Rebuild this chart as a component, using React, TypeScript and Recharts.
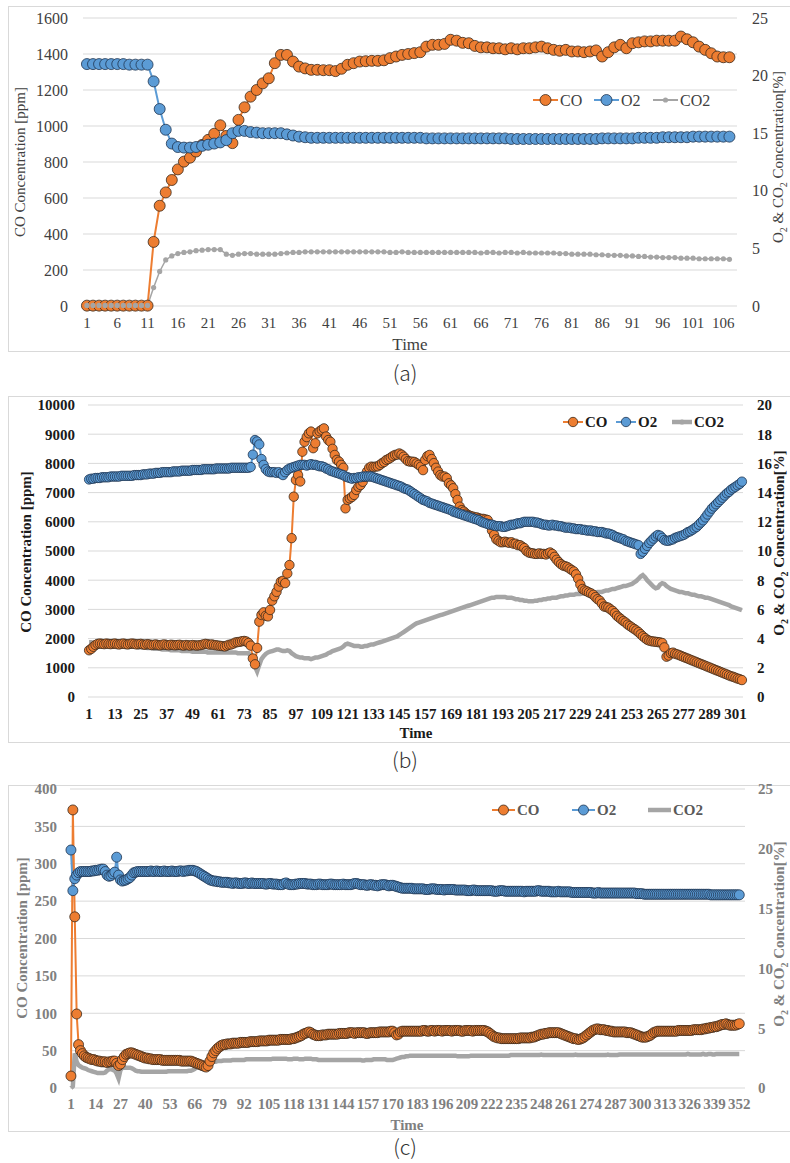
import { CartesianGrid, Legend, Line, LineChart, XAxis, YAxis } from "recharts";

// ---------- (a) ----------
const coA = [
  2, 2, 2, 2, 2, 2, 2, 2, 2, 2,
  2, 356, 557, 631, 700, 759, 802, 824, 858, 895,
  923, 957, 1004, 945, 905, 1034, 1104, 1163, 1200, 1237,
  1265, 1349, 1395, 1395, 1358, 1330, 1320, 1312, 1312, 1310,
  1310, 1305, 1318, 1340, 1349, 1358, 1360, 1362, 1362, 1365,
  1377, 1386, 1395, 1400, 1405, 1410, 1441, 1451, 1451, 1456,
  1479, 1474, 1462, 1460, 1445, 1437, 1437, 1432, 1432, 1426,
  1432, 1426, 1432, 1432, 1437, 1441, 1432, 1423, 1418, 1423,
  1414, 1414, 1410, 1414, 1420, 1386, 1410, 1437, 1451, 1432,
  1460, 1465, 1470, 1470, 1474, 1474, 1474, 1474, 1497, 1482,
  1465, 1441, 1423, 1404, 1386, 1382, 1382,
];
const o2A = [
  21.0, 21.0, 21.0, 21.0, 21.0, 21.0, 21.0, 20.95, 20.95, 20.95,
  20.95, 19.5, 17.1, 15.3, 14.1, 13.8, 13.75, 13.75, 13.8, 13.9,
  14.0, 14.1, 14.2, 14.4, 15.0, 15.2, 15.2, 15.1, 15.05, 15.0,
  15.0, 15.0, 15.0, 14.9, 14.8, 14.7, 14.65, 14.6, 14.6, 14.6,
  14.6, 14.6, 14.6, 14.6, 14.6, 14.6, 14.6, 14.6, 14.6, 14.6,
  14.6, 14.6, 14.6, 14.6, 14.6, 14.6, 14.55, 14.55, 14.55, 14.55,
  14.55, 14.55, 14.55, 14.55, 14.55, 14.55, 14.55, 14.55, 14.55, 14.55,
  14.5, 14.5, 14.5, 14.5, 14.5, 14.5, 14.5, 14.5, 14.5, 14.5,
  14.5, 14.5, 14.5, 14.5, 14.5, 14.55, 14.55, 14.55, 14.55, 14.55,
  14.55, 14.6, 14.6, 14.6, 14.6, 14.65, 14.65, 14.65, 14.65, 14.65,
  14.7, 14.7, 14.7, 14.7, 14.7, 14.7, 14.7,
];
const co2A = [
  0.05, 0.05, 0.05, 0.05, 0.05, 0.05, 0.05, 0.05, 0.05, 0.05,
  0.05, 1.6, 3.0, 4.0, 4.35, 4.55, 4.65, 4.7, 4.8, 4.85,
  4.9, 4.9, 4.9, 4.5, 4.4, 4.5, 4.55, 4.55, 4.5, 4.5,
  4.5, 4.5, 4.55, 4.6, 4.65, 4.65, 4.7, 4.7, 4.7, 4.7,
  4.7, 4.7, 4.7, 4.7, 4.7, 4.7, 4.7, 4.7, 4.7, 4.7,
  4.65, 4.65, 4.7, 4.65, 4.65, 4.65, 4.65, 4.65, 4.65, 4.65,
  4.65, 4.65, 4.65, 4.65, 4.65, 4.6, 4.65, 4.65, 4.6, 4.65,
  4.65, 4.6, 4.65, 4.6, 4.6, 4.6, 4.6, 4.6, 4.55, 4.55,
  4.5, 4.5, 4.5, 4.5, 4.45, 4.45, 4.4, 4.4, 4.4, 4.35,
  4.35, 4.3, 4.3, 4.25, 4.25, 4.2, 4.2, 4.2, 4.15, 4.15,
  4.15, 4.1, 4.1, 4.1, 4.1, 4.1, 4.05,
];
const xTicksA = [1, 6, 11, 16, 21, 26, 31, 36, 41, 46, 51, 56, 61, 66, 71, 76, 81, 86, 91, 96, 101, 106];
const leftTicksA = [0, 200, 400, 600, 800, 1000, 1200, 1400, 1600];
const rightTicksA = [0, 5, 10, 15, 20, 25];

// ---------- (b) ----------
const coB = [
  1600, 1650, 1720, 1780, 1820, 1830, 1820, 1810, 1830, 1820,
  1810, 1820, 1830, 1810, 1800, 1820, 1830, 1810, 1800, 1820,
  1830, 1820, 1800, 1810, 1820, 1800, 1790, 1810, 1800, 1780,
  1790, 1800, 1780, 1770, 1790, 1800, 1780, 1770, 1790, 1780,
  1770, 1780, 1790, 1770, 1760, 1780, 1770, 1760, 1780, 1770,
  1760, 1770, 1780, 1800, 1820, 1810, 1790, 1800, 1780, 1770,
  1760, 1750, 1740, 1730, 1760, 1790, 1800, 1830, 1870, 1880,
  1890, 1910, 1920, 1900, 1850, 1760, 1320, 1120, 1680, 2580,
  2810, 2900, 2780, 2760, 2980, 3300, 3450, 3600, 3780, 3950,
  3980, 3900, 4230, 4520, 5440, 6860, 7430, 7600, 7380, 8400,
  8740, 8900, 9030, 9090, 8520, 8690, 9030, 9100, 9150, 9200,
  8920, 8800, 8740, 8500, 8290, 8120, 8060, 7950, 7850, 6460,
  6750, 6800, 6850, 6920, 7090, 7200, 7260, 7370, 7550, 7720,
  7850, 7890, 7880, 7890, 7900, 7950, 8010, 8050, 8120, 8150,
  8200, 8250, 8290, 8300, 8340, 8300, 8230, 8150, 8080, 8060,
  8060, 8050, 8000, 7950, 7890, 7770, 8120, 8250, 8290, 8150,
  8010, 7850, 7720, 7600, 7550, 7550, 7500, 7320, 7250, 7150,
  6950, 6750, 6520, 6400, 6350, 6280, 6230, 6200, 6180, 6150,
  6150, 6120, 6100, 6100, 6080, 6060, 5900, 5700, 5550, 5400,
  5350, 5300, 5300, 5320, 5300, 5280, 5300, 5250, 5250, 5200,
  5200, 5150, 5100, 5000, 4950, 4930, 4920, 4900, 4900, 4920,
  4900, 4900, 4880, 4920, 4950, 4900, 4800, 4700, 4620, 4550,
  4500, 4480, 4450, 4400, 4350, 4300, 4200, 4050, 3850, 3700,
  3650, 3620, 3580, 3550, 3500, 3420, 3350, 3300, 3200, 3100,
  3080, 3060, 3000, 2950, 2870, 2780, 2720, 2660, 2600, 2550,
  2480, 2430, 2380, 2330, 2280, 2220, 2150, 2080, 2020, 1960,
  1930, 1910, 1900, 1890, 1880, 1870, 1850, 1700, 1380, 1420,
  1500, 1520, 1480, 1460, 1430, 1400, 1370, 1340, 1310, 1280,
  1250, 1220, 1190, 1160, 1130, 1100, 1070, 1040, 1010, 980,
  950, 920, 890, 860, 830, 800, 770, 740, 710, 690,
  660, 630, 610, 580,
];
const o2B = [
  14.9, 14.95, 14.95, 15.0, 15.0, 15.0, 15.05, 15.05, 15.05, 15.05,
  15.1, 15.1, 15.1, 15.1, 15.1, 15.15, 15.15, 15.15, 15.15, 15.15,
  15.15, 15.2, 15.2, 15.2, 15.2, 15.25, 15.25, 15.25, 15.3, 15.3,
  15.3, 15.35, 15.35, 15.35, 15.4, 15.4, 15.4, 15.4, 15.4, 15.45,
  15.45, 15.45, 15.45, 15.5, 15.5, 15.5, 15.5, 15.5, 15.55, 15.55,
  15.55, 15.55, 15.55, 15.6, 15.6, 15.6, 15.6, 15.6, 15.6, 15.65,
  15.65, 15.65, 15.65, 15.65, 15.65, 15.65, 15.7, 15.7, 15.7, 15.7,
  15.7, 15.7, 15.7, 15.7, 15.7, 15.75, 16.6, 17.6, 17.5, 17.3,
  16.3, 15.9, 15.6, 15.45, 15.4, 15.4, 15.4, 15.35, 15.4, 15.3,
  15.2, 15.4, 15.55, 15.65, 15.7, 15.75, 15.8, 15.85, 15.9, 15.9,
  15.9, 15.85, 15.9, 15.95, 15.9, 15.9, 15.85, 15.8, 15.8, 15.75,
  15.65, 15.6, 15.5, 15.45, 15.4, 15.35, 15.3, 15.25, 15.2, 15.1,
  15.05, 15.0, 14.95, 15.0, 15.0, 15.05, 15.05, 15.1, 15.1, 15.1,
  15.1, 15.1, 15.05, 15.0, 14.95, 14.9, 14.85, 14.8, 14.75, 14.7,
  14.65, 14.6, 14.55, 14.5, 14.45, 14.4, 14.3, 14.25, 14.2, 14.1,
  14.0, 13.9, 13.8, 13.7, 13.6, 13.5, 13.45, 13.4, 13.3, 13.25,
  13.2, 13.15, 13.1, 13.05, 13.0, 12.95, 12.9, 12.85, 12.8, 12.7,
  12.65, 12.6, 12.55, 12.5, 12.45, 12.4, 12.35, 12.3, 12.25, 12.2,
  12.15, 12.1, 12.0, 11.95, 11.9, 11.85, 11.8, 11.8, 11.75, 11.7,
  11.7, 11.7, 11.65, 11.65, 11.7, 11.75, 11.8, 11.8, 11.85, 11.9,
  11.9, 11.95, 12.0, 12.0, 12.0, 12.0, 12.0, 11.95, 11.95, 11.9,
  11.85, 11.8, 11.8, 11.75, 11.75, 11.8, 11.75, 11.75, 11.7, 11.7,
  11.65, 11.6, 11.6, 11.6, 11.55, 11.55, 11.5, 11.5, 11.5, 11.45,
  11.45, 11.4, 11.4, 11.4, 11.35, 11.35, 11.3, 11.3, 11.3, 11.25,
  11.2, 11.2, 11.15, 11.1, 11.0, 10.95, 10.9, 10.85, 10.8, 10.7,
  10.65, 10.6, 10.55, 10.5, 10.45, 10.4, 9.8, 9.95, 10.15, 10.35,
  10.55, 10.7, 10.85, 11.0, 11.1, 11.05, 10.9, 10.75, 10.7, 10.7,
  10.75, 10.8, 10.9, 10.95, 11.0, 11.05, 11.1, 11.2, 11.3, 11.35,
  11.45, 11.55, 11.65, 11.8, 11.95, 12.1, 12.3, 12.5, 12.7, 12.9,
  13.05, 13.2, 13.35, 13.5, 13.65, 13.8, 13.95, 14.05, 14.2, 14.3,
  14.4, 14.5, 14.6, 14.75,
];
const co2B = [
  3.75, 3.75, 3.7, 3.7, 3.7, 3.65, 3.65, 3.65, 3.6, 3.6,
  3.6, 3.6, 3.55, 3.55, 3.55, 3.5, 3.5, 3.5, 3.5, 3.45,
  3.45, 3.45, 3.45, 3.4, 3.4, 3.4, 3.4, 3.35, 3.35, 3.35,
  3.3, 3.3, 3.3, 3.3, 3.25, 3.25, 3.25, 3.25, 3.2, 3.2,
  3.2, 3.2, 3.2, 3.15, 3.15, 3.15, 3.15, 3.15, 3.1, 3.1,
  3.1, 3.1, 3.1, 3.1, 3.1, 3.05, 3.05, 3.05, 3.05, 3.05,
  3.05, 3.05, 3.05, 3.05, 3.05, 3.05, 3.05, 3.05, 3.05, 3.0,
  3.0, 3.0, 3.0, 3.0, 3.0, 2.8, 2.5, 2.1, 1.75, 2.2,
  2.6, 2.8, 2.95, 3.05, 3.1, 3.15, 3.2, 3.25, 3.25, 3.2,
  3.15, 3.15, 3.2, 3.15, 3.0, 2.9, 2.8, 2.75, 2.7, 2.7,
  2.65, 2.65, 2.65, 2.6, 2.65, 2.7, 2.7, 2.75, 2.8, 2.85,
  2.9, 3.0, 3.05, 3.15, 3.2, 3.25, 3.3, 3.35, 3.45, 3.6,
  3.65, 3.6, 3.55, 3.5, 3.5, 3.5, 3.45, 3.45, 3.5, 3.5,
  3.55, 3.6, 3.6, 3.65, 3.7, 3.75, 3.8, 3.85, 3.9, 3.95,
  4.0, 4.05, 4.1, 4.15, 4.25, 4.35, 4.45, 4.55, 4.65, 4.75,
  4.85, 4.95, 5.05, 5.1, 5.15, 5.2, 5.25, 5.3, 5.35, 5.4,
  5.45, 5.5, 5.55, 5.6, 5.65, 5.7, 5.75, 5.8, 5.85, 5.9,
  5.95, 6.0, 6.05, 6.1, 6.15, 6.2, 6.25, 6.3, 6.35, 6.4,
  6.45, 6.5, 6.55, 6.6, 6.65, 6.7, 6.75, 6.8, 6.8, 6.85,
  6.85, 6.85, 6.85, 6.85, 6.8, 6.8, 6.8, 6.75, 6.7, 6.7,
  6.65, 6.65, 6.6, 6.6, 6.55, 6.55, 6.55, 6.6, 6.6, 6.65,
  6.65, 6.7, 6.7, 6.75, 6.75, 6.8, 6.8, 6.8, 6.85, 6.9,
  6.9, 6.95, 6.95, 7.0, 7.0, 7.0, 7.05, 7.05, 7.05, 7.1,
  7.1, 7.1, 7.1, 7.15, 7.15, 7.15, 7.2, 7.2, 7.2, 7.25,
  7.3, 7.3, 7.35, 7.4, 7.4, 7.45, 7.5, 7.55, 7.6, 7.6,
  7.65, 7.7, 7.75, 7.85, 7.95, 8.1, 8.25, 8.35, 8.2, 8.0,
  7.85, 7.7, 7.55, 7.45, 7.5, 7.7, 7.8, 7.75, 7.6, 7.5,
  7.4, 7.35, 7.3, 7.25, 7.2, 7.2, 7.15, 7.1, 7.1, 7.05,
  7.0, 7.0, 6.95, 6.9, 6.9, 6.85, 6.8, 6.8, 6.75, 6.7,
  6.65, 6.6, 6.55, 6.5, 6.45, 6.4, 6.35, 6.3, 6.2, 6.15,
  6.1, 6.05, 6.0, 5.95,
];
const xTicksB = [1, 13, 25, 37, 49, 61, 73, 85, 97, 109, 121, 133, 145, 157, 169, 181, 193, 205, 217, 229, 241, 253, 265, 277, 289, 301];
const leftTicksB = [0, 1000, 2000, 3000, 4000, 5000, 6000, 7000, 8000, 9000, 10000];
const rightTicksB = [0, 2, 4, 6, 8, 10, 12, 14, 16, 18, 20];

// ---------- (c) ----------
const coC = [
  16, 372, 229, 99, 58, 50, 46, 43, 41, 40,
  39, 38, 38, 37, 36, 36, 35, 35, 35, 34,
  35, 35, 36, 36, 33, 30, 32, 38, 42, 45,
  46, 47, 47, 46, 45, 44, 43, 42, 41, 40,
  40, 39, 39, 38, 38, 38, 38, 38, 37, 37,
  37, 37, 37, 37, 37, 37, 37, 37, 36, 36,
  36, 36, 36, 36, 35, 34, 33, 32, 31, 30,
  29, 28, 30, 36, 42, 47, 50, 53, 55, 57,
  58, 58, 59, 59, 59, 60, 60, 60, 60, 61,
  61, 61, 61, 61, 62, 62, 62, 62, 62, 63,
  63, 63, 63, 63, 64, 64, 64, 64, 64, 64,
  65, 65, 65, 65, 65, 65, 66, 66, 67, 68,
  69, 70, 72, 73, 74, 75, 74, 72, 71, 70,
  70, 70, 71, 71, 71, 72, 72, 72, 72, 72,
  72, 73, 73, 73, 73, 73, 74, 74, 74, 73,
  74, 74, 74, 74, 74, 73, 73, 74, 74, 74,
  74, 74, 75, 75, 75, 75, 75, 75, 76, 76,
  74, 71, 72, 75, 76, 76, 76, 76, 76, 76,
  76, 76, 76, 76, 76, 77, 77, 76, 76, 77,
  77, 76, 77, 77, 77, 76, 77, 77, 77, 77,
  76, 77, 77, 77, 77, 76, 76, 77, 77, 77,
  77, 76, 77, 77, 77, 77, 77, 77, 76, 75,
  73, 71, 69, 68, 67, 67, 66, 66, 66, 66,
  66, 66, 66, 66, 66, 66, 67, 67, 67, 67,
  67, 67, 68, 68, 69, 70, 71, 72, 72, 73,
  73, 74, 74, 74, 74, 74, 74, 73, 72, 71,
  70, 69, 68, 67, 66, 66, 65, 65, 66, 67,
  69, 71, 73, 75, 77, 78, 79, 79, 78, 78,
  78, 77, 77, 76, 76, 75, 75, 75, 75, 75,
  75, 75, 74, 74, 74, 73, 72, 71, 70, 69,
  68, 68, 68, 69, 70, 72, 74, 75, 76, 76,
  76, 76, 76, 76, 76, 76, 76, 76, 76, 77,
  77, 77, 77, 77, 77, 77, 77, 78, 78, 78,
  78, 78, 79, 79, 80, 80, 81, 81, 82, 82,
  83, 84, 85, 85, 86, 85, 84, 84, 84, 84,
  85, 86,
];
const o2C = [
  19.9, 16.5, 17.5, 17.8, 18.0, 18.1, 18.1, 18.1, 18.1, 18.1,
  18.1, 18.15, 18.15, 18.2, 18.2, 18.25, 18.3, 18.3, 18.1, 17.8,
  17.7, 17.75, 17.9, 18.05, 19.3, 17.8, 17.4, 17.3, 17.35, 17.4,
  17.5, 17.6, 17.8, 18.0, 18.05, 18.1, 18.1, 18.1, 18.1, 18.1,
  18.1, 18.1, 18.15, 18.1, 18.1, 18.15, 18.1, 18.1, 18.1, 18.15,
  18.1, 18.1, 18.1, 18.15, 18.1, 18.1, 18.1, 18.15, 18.15, 18.1,
  18.15, 18.15, 18.2, 18.2, 18.2, 18.15, 18.1, 18.0, 17.9, 17.8,
  17.7, 17.6, 17.5, 17.4, 17.35, 17.3, 17.3, 17.25, 17.25, 17.2,
  17.2, 17.2, 17.2, 17.15, 17.15, 17.1, 17.15, 17.15, 17.1, 17.1,
  17.1, 17.15, 17.15, 17.1, 17.1, 17.15, 17.1, 17.1, 17.1, 17.1,
  17.1, 17.1, 17.05, 17.05, 17.1, 17.1, 17.05, 17.05, 17.05, 17.0,
  17.0, 17.0, 17.1, 17.15, 17.05, 17.0, 17.0, 17.0, 17.05, 17.05,
  17.1, 17.1, 17.1, 17.1, 17.05, 17.05, 17.05, 17.0, 17.0, 17.0,
  17.05, 17.05, 17.0, 17.0, 17.0, 17.0, 17.05, 17.05, 17.0, 17.0,
  17.0, 17.0, 17.0, 17.05, 17.0, 17.0, 17.0, 17.0, 17.05, 17.1,
  17.1, 17.05, 17.0, 17.0, 17.0, 16.95, 16.95, 17.0, 17.0, 16.95,
  16.95, 16.9, 16.95, 17.0, 17.0, 17.0, 16.95, 16.9, 16.95, 16.95,
  16.9, 16.85, 16.8, 16.75, 16.7, 16.7, 16.7, 16.7, 16.7, 16.7,
  16.65, 16.65, 16.65, 16.65, 16.65, 16.65, 16.6, 16.6, 16.6, 16.65,
  16.65, 16.65, 16.6, 16.6, 16.6, 16.6, 16.55, 16.6, 16.6, 16.6,
  16.6, 16.6, 16.55, 16.55, 16.55, 16.55, 16.55, 16.55, 16.5, 16.5,
  16.5, 16.55, 16.55, 16.5, 16.5, 16.5, 16.5, 16.5, 16.5, 16.5,
  16.5, 16.5, 16.45, 16.45, 16.45, 16.5, 16.5, 16.5, 16.45, 16.45,
  16.45, 16.45, 16.45, 16.45, 16.45, 16.45, 16.45, 16.45, 16.4, 16.45,
  16.45, 16.45, 16.45, 16.45, 16.45, 16.5, 16.5, 16.45, 16.45, 16.45,
  16.45, 16.45, 16.4, 16.4, 16.4, 16.4, 16.45, 16.4, 16.4, 16.4,
  16.4, 16.4, 16.4, 16.35, 16.35, 16.35, 16.35, 16.35, 16.35, 16.35,
  16.35, 16.35, 16.35, 16.35, 16.3, 16.3, 16.3, 16.35, 16.3, 16.3,
  16.3, 16.3, 16.3, 16.3, 16.3, 16.3, 16.3, 16.3, 16.3, 16.3,
  16.3, 16.3, 16.3, 16.3, 16.3, 16.3, 16.3, 16.25, 16.25, 16.25,
  16.25, 16.2, 16.2, 16.2, 16.2, 16.2, 16.2, 16.2, 16.2, 16.2,
  16.2, 16.2, 16.2, 16.2, 16.2, 16.2, 16.2, 16.2, 16.2, 16.2,
  16.2, 16.2, 16.2, 16.2, 16.2, 16.2, 16.2, 16.2, 16.2, 16.2,
  16.2, 16.2, 16.2, 16.2, 16.2, 16.2, 16.15, 16.15, 16.15, 16.15,
  16.15, 16.15, 16.15, 16.15, 16.15, 16.15, 16.15, 16.15, 16.15, 16.15,
  16.15, 16.15,
];
const co2C = [
  0.0, 0.15, 2.9, 2.2, 1.9, 1.8, 1.7, 1.65, 1.6, 1.5,
  1.45, 1.4, 1.35, 1.3, 1.25, 1.25, 1.25, 1.25, 1.3, 1.45,
  1.55, 1.6, 1.5, 1.45, 1.2, 0.8, 1.5, 1.7, 1.7, 1.7,
  1.7, 1.7, 1.65, 1.55, 1.45, 1.4, 1.4, 1.35, 1.35, 1.35,
  1.35, 1.35, 1.35, 1.35, 1.35, 1.35, 1.35, 1.35, 1.35, 1.35,
  1.35, 1.4, 1.4, 1.4, 1.4, 1.4, 1.4, 1.4, 1.4, 1.4,
  1.4, 1.4, 1.45, 1.45, 1.5, 1.6, 1.75, 1.9, 2.0, 2.0,
  2.05, 2.1, 2.1, 2.15, 2.15, 2.2, 2.2, 2.25, 2.25, 2.25,
  2.3, 2.3, 2.3, 2.3, 2.3, 2.35, 2.35, 2.35, 2.35, 2.35,
  2.35, 2.35, 2.4, 2.4, 2.4, 2.4, 2.4, 2.4, 2.4, 2.4,
  2.4, 2.4, 2.4, 2.4, 2.4, 2.4, 2.45, 2.45, 2.45, 2.45,
  2.45, 2.45, 2.45, 2.45, 2.4, 2.4, 2.4, 2.45, 2.45, 2.45,
  2.4, 2.4, 2.4, 2.45, 2.45, 2.45, 2.45, 2.4, 2.4, 2.4,
  2.35, 2.35, 2.35, 2.35, 2.35, 2.35, 2.35, 2.35, 2.35, 2.35,
  2.35, 2.35, 2.35, 2.35, 2.35, 2.35, 2.35, 2.35, 2.35, 2.35,
  2.35, 2.35, 2.35, 2.3, 2.3, 2.35, 2.35, 2.35, 2.35, 2.4,
  2.4, 2.4, 2.4, 2.4, 2.4, 2.4, 2.35, 2.35, 2.35, 2.35,
  2.4, 2.45, 2.5, 2.55, 2.6, 2.6, 2.65, 2.65, 2.7, 2.7,
  2.7, 2.7, 2.7, 2.7, 2.7, 2.7, 2.7, 2.7, 2.7, 2.7,
  2.7, 2.7, 2.7, 2.7, 2.7, 2.7, 2.7, 2.7, 2.7, 2.7,
  2.7, 2.7, 2.7, 2.65, 2.65, 2.65, 2.65, 2.65, 2.65, 2.65,
  2.7, 2.7, 2.7, 2.7, 2.7, 2.7, 2.7, 2.7, 2.7, 2.7,
  2.7, 2.7, 2.7, 2.7, 2.7, 2.7, 2.7, 2.7, 2.7, 2.7,
  2.7, 2.75, 2.75, 2.75, 2.75, 2.75, 2.75, 2.75, 2.75, 2.75,
  2.75, 2.75, 2.75, 2.75, 2.75, 2.75, 2.75, 2.8, 2.75, 2.75,
  2.75, 2.75, 2.75, 2.75, 2.75, 2.75, 2.75, 2.75, 2.75, 2.75,
  2.75, 2.75, 2.75, 2.75, 2.75, 2.8, 2.75, 2.75, 2.75, 2.75,
  2.75, 2.75, 2.75, 2.75, 2.75, 2.75, 2.75, 2.75, 2.75, 2.75,
  2.75, 2.75, 2.8, 2.75, 2.75, 2.75, 2.75, 2.75, 2.8, 2.8,
  2.8, 2.8, 2.8, 2.8, 2.8, 2.8, 2.8, 2.8, 2.8, 2.8,
  2.8, 2.8, 2.8, 2.8, 2.8, 2.8, 2.8, 2.8, 2.8, 2.8,
  2.8, 2.8, 2.8, 2.8, 2.8, 2.8, 2.8, 2.8, 2.8, 2.8,
  2.8, 2.8, 2.8, 2.8, 2.85, 2.8, 2.8, 2.8, 2.8, 2.8,
  2.8, 2.8, 2.85, 2.8, 2.8, 2.85, 2.85, 2.8, 2.8, 2.85,
  2.85, 2.85, 2.85, 2.85, 2.85, 2.85, 2.85, 2.85, 2.85, 2.85,
  2.85, 2.85,
];
const xTicksC = [1, 14, 27, 40, 53, 66, 79, 92, 105, 118, 131, 144, 157, 170, 183, 196, 209, 222, 235, 248, 261, 274, 287, 300, 313, 326, 339, 352];
const leftTicksC = [0, 50, 100, 150, 200, 250, 300, 350, 400];
const rightTicksC = [0, 5, 10, 15, 20, 25];

const ORANGE = "#ED7D31";
const BLUE = "#5B9BD5";
const GRAY = "#A5A5A5";
const SERIF = "'Liberation Serif', 'Times New Roman', serif";
// extra room above each plot so the top tick labels are not clipped
const PAD = 10;

type Row = { t: number; CO: number; O2: number; CO2: number };
const toRows = (co: number[], o2: number[], co2: number[]): Row[] =>
  co.map((v, i) => ({ t: i + 1, CO: v, O2: o2[i], CO2: co2[i] }));

interface SeriesStyle {
  width: number;
  r: number;
  dotStroke: string;
}

interface Panel {
  top: number;
  h: number;
  rows: Row[];
  margin: { top: number; right: number; bottom: number; left: number };
  leftW: number;
  rightW: number;
  xDomain: [number, number];
  xTicks: number[];
  leftDomain: [number, number];
  leftTicks: number[];
  rightDomain: [number, number];
  rightTicks: number[];
  gapL: number;
  gapR: number;
  gapX: number;
  color: string;
  legendColor: string;
  weight: number;
  yFont: number;
  xFont: number;
  styles: SeriesStyle[];
  legendXs: number[];
  legendY: number;
  legendLen: number;
  yTitle: [number, number];
  rTitle: [number, number];
  time: [number, number];
  caption: string;
  captionY: number;
}

const panels: Panel[] = [
  {
    top: 6, h: 346, rows: toRows(coA, o2A, co2A),
    margin: { top: 12, right: 0, bottom: 16, left: 0 }, leftW: 75, rightW: 47,
    xDomain: [0.35, 108.25], xTicks: xTicksA,
    leftDomain: [0, 1600], leftTicks: leftTicksA, rightDomain: [0, 25], rightTicks: rightTicksA,
    gapL: 15, gapR: 15, gapX: 11, color: "#404040", legendColor: "#404040", weight: 400, yFont: 16, xFont: 15,
    styles: [
      { width: 2, r: 5.5, dotStroke: "#3a2a1c" },
      { width: 2, r: 5.5, dotStroke: "#1f3550" },
      { width: 1.5, r: 2.6, dotStroke: GRAY },
    ],
    legendXs: [533, 594, 653], legendY: 100, legendLen: 25,
    yTitle: [20, 162], rTitle: [781, 157], time: [410, 345], caption: "(a)", captionY: 372,
  },
  {
    top: 396, h: 347, rows: toRows(coB, o2B, co2B),
    margin: { top: 9, right: 0, bottom: 16, left: 0 }, leftW: 80, rightW: 41,
    xDomain: [0.5, 304.5], xTicks: xTicksB,
    leftDomain: [0, 10000], leftTicks: leftTicksB, rightDomain: [0, 20], rightTicks: rightTicksB,
    gapL: 13, gapR: 14, gapX: 11, color: "#1a1a1a", legendColor: "#1a1a1a", weight: 700, yFont: 15, xFont: 15,
    styles: [
      { width: 2, r: 4.7, dotStroke: "#3a2a1c" },
      { width: 2, r: 4.7, dotStroke: "#1f3550" },
      { width: 4.5, r: 0, dotStroke: GRAY },
    ],
    legendXs: [563, 616, 672], legendY: 422, legendLen: 20,
    yTitle: [26, 552], rTitle: [782, 543], time: [416, 733], caption: "(b)", captionY: 759,
  },
  {
    top: 785, h: 347, rows: toRows(coC, o2C, co2C),
    margin: { top: 4, right: 0, bottom: 14, left: 0 }, leftW: 62, rightW: 39,
    xDomain: [0.5, 355], xTicks: xTicksC,
    leftDomain: [0, 400], leftTicks: leftTicksC, rightDomain: [0, 25], rightTicks: rightTicksC,
    gapL: 13, gapR: 13, gapX: 10, color: "#7f7f7f", legendColor: "#595959", weight: 700, yFont: 15, xFont: 15,
    styles: [
      { width: 2, r: 5, dotStroke: "#3a2a1c" },
      { width: 2, r: 5, dotStroke: "#1f3550" },
      { width: 4.5, r: 0, dotStroke: GRAY },
    ],
    legendXs: [492, 572, 648], legendY: 810, legendLen: 23,
    yTitle: [22, 938], rTitle: [782, 934], time: [407, 1125], caption: "(c)", captionY: 1146,
  },
];

const seriesMeta = [
  { key: "CO", axis: "left", color: ORANGE },
  { key: "O2", axis: "right", color: BLUE },
  { key: "CO2", axis: "right", color: GRAY },
];

const makeLegend = (p: Panel) => (props: any) => {
  const payload: any[] = props.payload ?? [];
  return (
    <svg width={776} height={24} style={{ display: "block" }}>
      {payload.map((entry) => {
        const idx = seriesMeta.findIndex((s) => s.key === entry.value);
        if (idx < 0) return null;
        const st = p.styles[idx];
        const x0 = p.legendXs[idx] - 8;
        const cx = x0 + p.legendLen / 2;
        const thick = idx === 2 && st.r === 0;
        return (
          <g key={entry.value}>
            <line x1={x0} x2={x0 + p.legendLen} y1={12} y2={12} stroke={entry.color} strokeWidth={thick ? st.width : 2} />
            {st.r > 0 && (
              <circle cx={cx} cy={12} r={st.r} fill={entry.color} stroke={st.dotStroke} strokeWidth={idx === 2 ? 0 : 0.8} />
            )}
            {thick && p.caption === "(b)" && <circle cx={cx} cy={12} r={2.6} fill={GRAY} />}
            <text
              x={x0 + p.legendLen + 2}
              y={12}
              dominantBaseline="central"
              fontFamily={SERIF}
              fontSize={p.weight === 700 ? 15 : 16}
              fontWeight={p.weight}
              fill={p.legendColor}
            >
              {entry.value}
            </text>
          </g>
        );
      })}
    </svg>
  );
};

const ChartPanel = ({ p }: { p: Panel }) => {
  const tick = (size: number) => ({ fill: p.color, fontSize: size, fontFamily: SERIF, fontWeight: p.weight });
  const rot = (x: number, y: number) => ({
    position: "absolute" as const,
    left: x,
    top: y,
    transform: "translate(-50%, -50%) rotate(-90deg)",
    whiteSpace: "nowrap" as const,
    fontFamily: SERIF,
    fontSize: 15,
    fontWeight: p.weight,
    color: p.color,
    lineHeight: "16px",
  });
  const chartTop = p.top - PAD;
  return (
    <>
      <div
        style={{
          position: "absolute", left: 8, top: p.top, width: 800, height: p.h,
          border: "1px solid #d9d9d9", boxSizing: "border-box",
        }}
      />
      <div style={{ position: "absolute", left: 8, top: chartTop }}>
        <LineChart width={776} height={p.h + PAD} data={p.rows} margin={{ ...p.margin, top: p.margin.top + PAD }}>
          <CartesianGrid yAxisId="left" vertical={false} stroke="#d9d9d9" strokeWidth={1} />
          <XAxis
            dataKey="t" type="number" domain={p.xDomain} ticks={p.xTicks} interval={0}
            tickLine={false} axisLine={false} tickSize={0} tickMargin={p.gapX} height={30}
            tick={tick(p.xFont)}
          />
          <YAxis
            yAxisId="left" domain={p.leftDomain} ticks={p.leftTicks} interval={0} width={p.leftW}
            tickLine={false} axisLine={false} tickSize={0} tickMargin={p.gapL} tick={tick(p.yFont)}
          />
          <YAxis
            yAxisId="right" orientation="right" domain={p.rightDomain} ticks={p.rightTicks} interval={0}
            width={p.rightW} tickLine={false} axisLine={false} tickSize={0} tickMargin={p.gapR} tick={tick(p.yFont)}
          />
          <Legend
            layout="horizontal" verticalAlign="middle" align="center"
            wrapperStyle={{ left: 0, top: p.legendY - chartTop - 12, width: 776, height: 24, right: "auto", bottom: "auto" }}
            content={makeLegend(p)}
          />
          {seriesMeta.map((s, idx) => {
            const st = p.styles[idx];
            return (
              <Line
                key={s.key}
                yAxisId={s.axis}
                dataKey={s.key}
                name={s.key}
                type="linear"
                stroke={s.color}
                strokeWidth={st.width}
                dot={st.r > 0 ? { r: st.r, fill: s.color, stroke: st.dotStroke, strokeWidth: idx === 2 ? 0 : 0.8 } : false}
                activeDot={false}
                isAnimationActive={false}
              />
            );
          })}
        </LineChart>
      </div>
      <div style={rot(p.yTitle[0], p.yTitle[1])}>CO Concentration [ppm]</div>
      <div style={rot(p.rTitle[0], p.rTitle[1])}>
        O<sub style={{ fontSize: 10 }}>2</sub> &amp; CO<sub style={{ fontSize: 10 }}>2</sub> Concentration[%]
      </div>
      <div
        style={{
          position: "absolute", left: p.time[0], top: p.time[1], transform: "translate(-50%, -50%)",
          fontFamily: SERIF, fontSize: p.weight === 700 ? 15 : 17, fontWeight: p.weight, color: p.color,
        }}
      >
        Time
      </div>
      <div
        style={{
          position: "absolute", left: 405, top: p.captionY, transform: "translate(-50%, -50%)",
          fontFamily: "'Noto Sans CJK KR', 'Noto Sans', sans-serif", fontSize: 21, fontWeight: 300, color: "#333",
        }}
      >
        {p.caption}
      </div>
    </>
  );
};

export default function App() {
  return (
    <div style={{ position: "absolute", left: 0, top: 0, width: 790, height: 1163, overflow: "hidden", background: "#fff" }}>
      {panels.map((p) => (
        <ChartPanel key={p.caption} p={p} />
      ))}
    </div>
  );
}
